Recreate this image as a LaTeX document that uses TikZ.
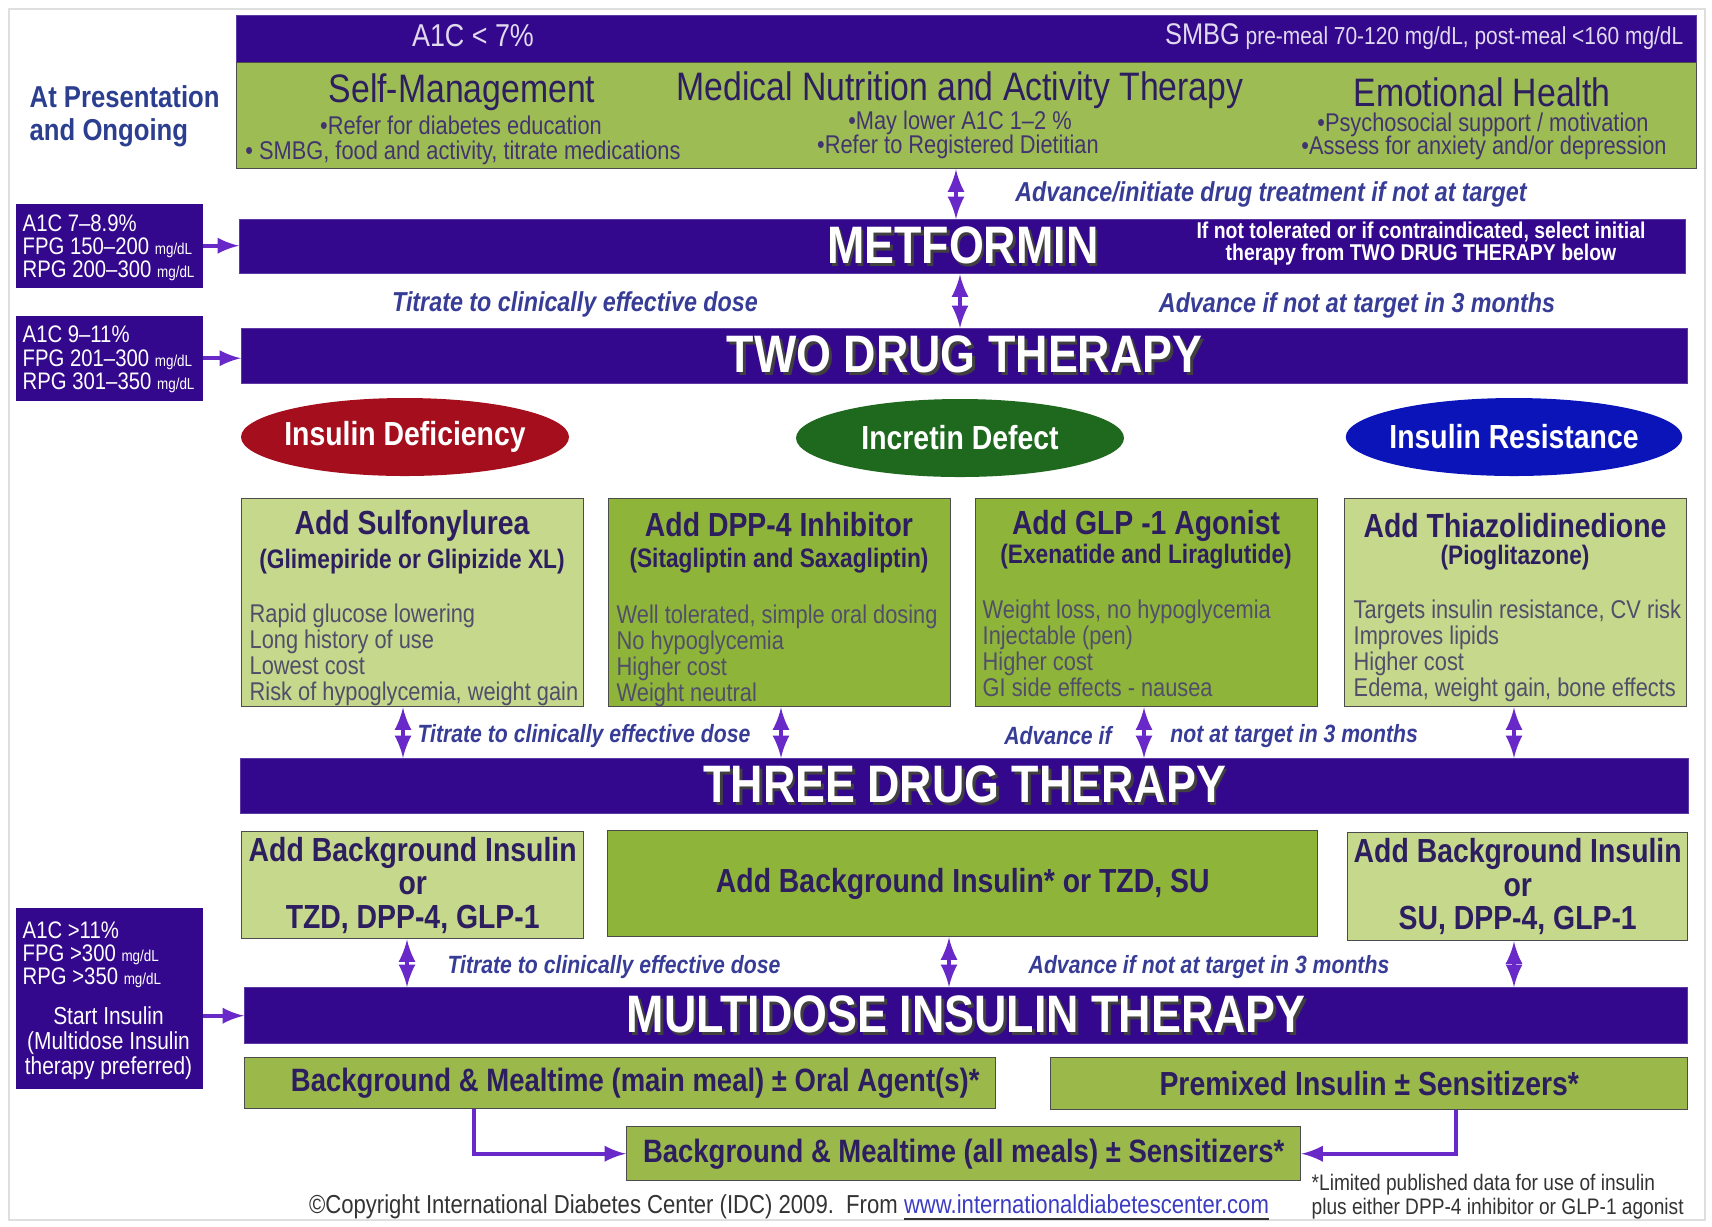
\documentclass[tikz,border=0pt]{standalone}
\usepackage{fontspec}
\setmainfont[FakeStretch=0.85]{Liberation Sans}
\usetikzlibrary{positioning, arrows, shapes.geometric}

\definecolor{bar}{RGB}{52,8,140}
\definecolor{topgreen}{RGB}{158,188,84}
\definecolor{ltgreen}{RGB}{197,216,140}
\definecolor{dkgreen}{RGB}{143,180,58}
\definecolor{olive}{RGB}{155,185,75}
\definecolor{ink}{RGB}{45,30,95}
\definecolor{itemc}{RGB}{80,78,105}
\definecolor{arr}{RGB}{105,40,200}
\definecolor{lbl}{RGB}{55,60,150}
\definecolor{defred}{RGB}{165,14,28}
\definecolor{defgreen}{RGB}{30,105,30}
\definecolor{resblue}{RGB}{10,20,185}
\definecolor{pres}{RGB}{43,62,143}
\definecolor{url}{RGB}{60,60,195}

\newcommand{\mgdl}{{\fontsize{4.5}{5}\selectfont mg/dL}}
\newcommand{\shtxt}[1]{\leavevmode\rlap{\hspace{0.8pt}\raisebox{-0.8pt}{\textcolor{black!75}{#1}}}#1}

\tikzset{
  barbox/.style={fill=bar, draw=bar!80!white, anchor=north west, inner sep=0pt, text=white, font=\fontsize{15}{15}\selectfont\bfseries},
  gbox/.style={draw=gray!60!black, line width=0.4pt, anchor=north west, inner sep=0pt},
  lvl/.style={fill=bar, anchor=north west, inner sep=0pt},
  lvtxt/.style={anchor=north west, align=left, inner sep=0pt, text=white, font=\fontsize{6.8}{6.6}\selectfont},
  dbl/.style={latex-latex, arr, line width=1.2pt},
  one/.style={-latex, arr, line width=1.1pt},
  lab/.style={text=lbl, font=\fontsize{7.8}{8}\selectfont\bfseries\itshape},
  labs/.style={text=lbl, font=\fontsize{7.1}{8}\selectfont\bfseries\itshape},
  ttl/.style={text=ink, font=\fontsize{9.5}{9.6}\selectfont\bfseries},
  sub/.style={text=ink, font=\fontsize{7.6}{8}\selectfont\bfseries},
  itm/.style={text=itemc, anchor=north west, align=left, inner sep=0pt, font=\fontsize{7.3}{7.4}\selectfont},
  head/.style={text=ink, font=\fontsize{11.3}{12}\selectfont},
  bul/.style={text=ink!90, font=\fontsize{7.3}{8}\selectfont},
  oval/.style={ellipse, minimum width=3.28cm, minimum height=0.78cm, inner xsep=-1.6pt, inner ysep=0pt, text=white, font=\fontsize{9.5}{10}\selectfont\bfseries},
}

\begin{document}
\begin{tikzpicture}
\useasboundingbox (0,0) rectangle (17.12,-12.26);
\draw[gray!25] (0.09,-0.09) rectangle (17.05,-12.2);

% goals and lifestyle
\node[barbox, minimum width=14.6cm, minimum height=0.47cm](top) at (2.36,-0.15) {};
\node[gbox, fill=topgreen, minimum width=14.6cm, minimum height=1.06cm](mgmt) at (2.36,-0.62) {};
\node[text=white!85!bar, font=\fontsize{9}{9}\selectfont](goal) at (4.73,-0.36) {A1C < 7\%};
\node[anchor=east, inner sep=0pt, text=white!85!bar, font=\fontsize{7}{7}\selectfont](smbg) at (16.84,-0.37) {{\fontsize{8.5}{9}\selectfont SMBG} pre-meal 70-120 mg/dL, post-meal <160 mg/dL};

\node[head](self) at (4.62,-0.92) {Self-Management};
\node[bul](selfa) at (4.61,-1.25) {\textbullet Refer for diabetes education};
\node[bul](selfb) at (4.63,-1.53) {\textbullet\ SMBG, food and activity, titrate medications};
\node[head](mnt) at (9.60,-0.90) {Medical Nutrition and Activity Therapy};
\node[bul](mnta) at (9.60,-1.23) {\textbullet May lower A1C 1--2 \%};
\node[bul](mntb) at (9.58,-1.47) {\textbullet Refer to Registered Dietitian};
\node[head](emo) at (14.82,-0.92) {Emotional Health};
\node[bul](emoa) at (14.83,-1.25) {\textbullet Psychosocial support / motivation};
\node[bul](emob) at (14.84,-1.48) {\textbullet Assess for anxiety and/or depression};

\node[anchor=west, align=left, inner sep=0pt, text=pres, font=\fontsize{8.6}{9.4}\selectfont\bfseries](pres) at (0.29,-1.165) {At Presentation\\and Ongoing};

% metformin
\node[lvl, minimum width=1.87cm, minimum height=0.84cm](lv1) at (0.15,-2.03) {};
\node[lvtxt](lv1t) at (0.22,-2.14) {A1C 7--8.9\%\\FPG 150--200 \mgdl\\RPG 200--300 \mgdl};
\node[barbox, minimum width=14.46cm, minimum height=0.54cm](met) at (2.39,-2.19) {\shtxt{METFORMIN}};
\node[align=center, text=white, font=\fontsize{6.5}{6.3}\selectfont\bfseries](metnote) at (14.21,-2.44) {If not tolerated or if contraindicated, select initial\\therapy from TWO DRUG THERAPY below};
\node[lab](lab1) at (12.71,-1.94) {Advance/initiate drug treatment if not at target};

% two drugs
\node[lvl, minimum width=1.87cm, minimum height=0.85cm](lv2) at (0.15,-3.15) {};
\node[lvtxt](lv2t) at (0.22,-3.255) {A1C 9--11\%\\FPG 201--300 \mgdl\\RPG 301--350 \mgdl};
\node[barbox, minimum width=14.46cm, minimum height=0.55cm](two) at (2.41,-3.28) {\shtxt{TWO DRUG THERAPY}};
\node[lab](lab2) at (5.75,-3.04) {Titrate to clinically effective dose};
\node[lab](lab3) at (13.57,-3.05) {Advance if not at target in 3 months};

\node[oval, fill=defred](id) at (4.05,-4.37) {Insulin Deficiency};
\node[oval, fill=defgreen](ic) at (9.60,-4.38) {Incretin Defect};
\node[oval, fill=resblue](ir) at (15.14,-4.37) {Insulin Resistance};

\node[gbox, fill=ltgreen, minimum width=3.42cm, minimum height=2.08cm](su) at (2.41,-4.98) {};
\node[gbox, fill=dkgreen, minimum width=3.42cm, minimum height=2.08cm](dpp) at (6.08,-4.98) {};
\node[gbox, fill=dkgreen, minimum width=3.42cm, minimum height=2.08cm](glp) at (9.75,-4.98) {};
\node[gbox, fill=ltgreen, minimum width=3.42cm, minimum height=2.08cm](tzd) at (13.44,-4.98) {};

\node[ttl](suT) at (4.12,-5.26) {Add Sulfonylurea};
\node[sub](suS) at (4.12,-5.62) {(Glimepiride or Glipizide XL)};
\node[itm](suI) at (2.49,-6.03) {Rapid glucose lowering\\Long history of use\\Lowest cost\\Risk of hypoglycemia, weight gain};
\node[ttl](dppT) at (7.79,-5.25) {Add DPP-4 Inhibitor};
\node[sub](dppS) at (7.79,-5.61) {(Sitagliptin and Saxagliptin)};
\node[itm](dppI) at (6.16,-6.04) {Well tolerated, simple oral dosing\\No hypoglycemia\\Higher cost\\Weight neutral};
\node[ttl](glpT) at (11.46,-5.26) {Add GLP -1 Agonist};
\node[sub](glpS) at (11.46,-5.57) {(Exenatide and Liraglutide)};
\node[itm](glpI) at (9.82,-5.99) {Weight loss, no hypoglycemia\\Injectable (pen)\\Higher cost\\GI side effects - nausea};
\node[ttl](tzdT) at (15.15,-5.26) {Add Thiazolidinedione};
\node[sub](tzdS) at (15.15,-5.58) {(Pioglitazone)};
\node[itm](tzdI) at (13.53,-5.99) {Targets insulin resistance, CV risk\\Improves lipids\\Higher cost\\Edema, weight gain, bone effects};

% three drugs
\node[barbox, minimum width=14.48cm, minimum height=0.55cm](three) at (2.40,-7.58) {\shtxt{THREE DRUG THERAPY}};
\node[labs](lab4) at (5.84,-7.36) {Titrate to clinically effective dose};
\node[labs, anchor=east](lab5) at (11.24,-7.36) {Advance if};
\node[labs, anchor=west](lab5b) at (11.58,-7.36) {not at target in 3 months};

\node[gbox, fill=ltgreen, minimum width=3.42cm, minimum height=1.07cm, ttl, align=center](bi1) at (2.41,-8.31) {Add Background Insulin\\or\\TZD, DPP-4, GLP-1};
\node[gbox, fill=dkgreen, minimum width=7.10cm, minimum height=1.06cm, ttl](bi2) at (6.07,-8.30) {Add Background Insulin* or TZD, SU};
\node[gbox, fill=ltgreen, minimum width=3.40cm, minimum height=1.08cm, ttl, align=center](bi3) at (13.47,-8.32) {Add Background Insulin\\or\\SU, DPP-4, GLP-1};

% insulin
\node[lvl, minimum width=1.87cm, minimum height=1.81cm](lv3) at (0.15,-9.07) {};
\node[lvtxt](lv3t) at (0.22,-9.21) {A1C >11\%\\FPG >300 \mgdl\\RPG >350 \mgdl};
\node[align=center, text=white, font=\fontsize{7}{7.1}\selectfont](lv3s) at (1.085,-10.43) {Start Insulin\\(Multidose Insulin\\therapy preferred)};
\node[barbox, minimum width=14.43cm, minimum height=0.56cm](multi) at (2.44,-9.87) {\shtxt{MULTIDOSE INSULIN THERAPY}};
\node[labs](lab6) at (6.14,-9.67) {Titrate to clinically effective dose};
\node[labs](lab7) at (12.09,-9.67) {Advance if not at target in 3 months};

\node[gbox, fill=olive, minimum width=7.51cm, minimum height=0.51cm, ttl, font=\fontsize{9.2}{9.6}\selectfont\bfseries](bm1) at (2.44,-10.57) {\hspace{0.3cm}Background \& Mealtime (main meal) ± Oral Agent(s)*};
\node[gbox, fill=olive, minimum width=6.37cm, minimum height=0.52cm, ttl](pm) at (10.50,-10.57) {Premixed Insulin ± Sensitizers*};
\node[gbox, fill=olive, minimum width=6.74cm, minimum height=0.54cm, ttl, font=\fontsize{9.2}{9.6}\selectfont\bfseries](bm2) at (6.26,-11.26) {Background \& Mealtime (all meals) ± Sensitizers*};

\node[text=gray!40!black, font=\fontsize{7.4}{7.5}\selectfont](copy) at (7.89,-12.08) {\textcopyright Copyright International Diabetes Center (IDC) 2009.\ \ From \underline{\textcolor{url}{www.internationaldiabetescenter.com}}};
\node[anchor=north west, align=left, inner sep=0pt, text=gray!40!black, font=\fontsize{6.4}{7}\selectfont](foot) at (13.11,-11.73) {*Limited published data for use of insulin\\plus either DPP-4 inhibitor or GLP-1 agonist};

% connectors
\coordinate(a1) at (9.56,0);
\coordinate(a2) at (9.60,0);
\coordinate(b1) at (4.03,0);
\coordinate(b2) at (7.81,0);
\coordinate(b3) at (11.44,0);
\coordinate(b4) at (15.14,0);
\coordinate(c1) at (4.07,0);
\coordinate(c2) at (9.49,0);
\coordinate(c3) at (15.14,0);
\coordinate(d1) at (4.74,0);
\coordinate(d2) at (14.56,0);

\draw[dbl] (mgmt.south -| a1) -- (met.north -| a1);
\draw[dbl] (met.south -| a2) -- (two.north -| a2);
\draw[one] (lv1.east) -- (met.west |- lv1.east);
\draw[one] (lv2.east) -- (two.west |- lv2.east);
\draw[one] (lv3.east |- multi.west) -- (multi.west);
\draw[dbl] (su.south -| b1) -- (three.north -| b1);
\draw[dbl] (dpp.south -| b2) -- (three.north -| b2);
\draw[dbl] (glp.south -| b3) -- (three.north -| b3);
\draw[dbl] (tzd.south -| b4) -- (three.north -| b4);
\draw[dbl] (bi1.south -| c1) -- (multi.north -| c1);
\draw[dbl] (bi2.south -| c2) -- (multi.north -| c2);
\draw[dbl] (bi3.south -| c3) -- (multi.north -| c3);
\draw[one] (bm1.south -| d1) |- (bm2.west);
\draw[one] (pm.south -| d2) |- (bm2.east);
\end{tikzpicture}
\end{document}
